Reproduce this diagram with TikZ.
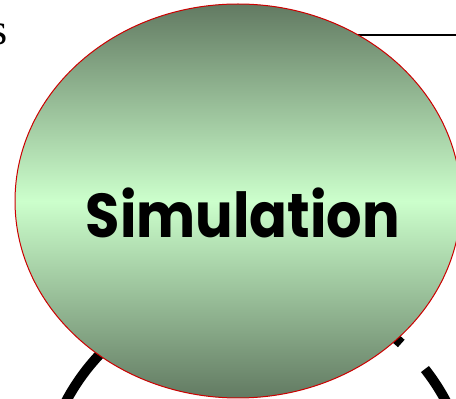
\documentclass[tikz,border=0pt]{standalone}
\usepackage{fontspec}
\setmainfont{Liberation Serif}
\newfontfamily\simfont{Poppins}
\usepackage{tikz}
\usetikzlibrary{shapes.geometric,positioning,calc}
\definecolor{SimDark}{RGB}{98,122,98}
\definecolor{SimLight}{RGB}{204,255,204}
\definecolor{SimRed}{RGB}{204,0,0}
\tikzset{
  simblob/.style={ellipse,draw=SimRed,line width=1pt,top color=SimDark,bottom color=SimDark,middle color=SimLight,minimum width=446pt,minimum height=394pt,inner sep=0pt},
  simtext/.style={font=\simfont\bfseries\fontsize{62}{70}\selectfont,text=black,xscale=0.9},
  ring/.style={line width=10pt,black},
  rule/.style={line width=1.5pt,black},
}
\begin{document}
\begin{tikzpicture}[x=1pt,y=1pt]
  \useasboundingbox (0,0) rectangle (456,399);
  \clip (0,0) rectangle (456,399);
  % big ring behind the ellipse
  \coordinate (ringc) at (256,-103);
  \draw[ring] ($(ringc)+(20:215)$) arc[start angle=20,end angle=38.2,radius=215];
  \draw[ring] ($(ringc)+(47.5:215)$) arc[start angle=47.5,end angle=160,radius=215];
  % line on the top right
  \coordinate (rulestart) at (330,364);
  \coordinate (ruleend) at (460,364);
  \draw[rule] (rulestart) -- (ruleend);
  \node[simblob] (sim) at (238,198) {};
  \node[simtext] (simlabel) at (243,186) {Simulation};
  \node[anchor=base east,font=\fontsize{44}{48}\selectfont,inner sep=0pt] (cut) at (8,354) {s};
\end{tikzpicture}
\end{document}
